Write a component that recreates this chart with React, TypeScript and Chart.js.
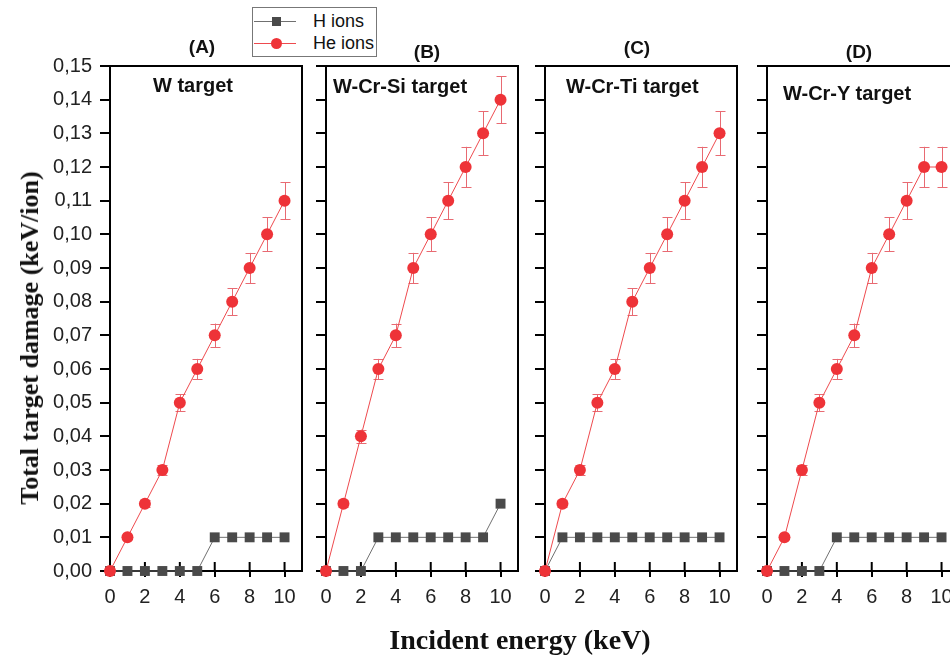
import React, { useEffect, useRef } from 'react';
import { Chart, registerables } from 'chart.js';

Chart.register(...registerables);

// ---------- data ----------
const energies = [0, 1, 2, 3, 4, 5, 6, 7, 8, 9, 10];
const xTicks = [0, 2, 4, 6, 8, 10];
const yTicks = [0, 0.01, 0.02, 0.03, 0.04, 0.05, 0.06, 0.07, 0.08, 0.09, 0.1, 0.11, 0.12, 0.13, 0.14, 0.15];

const panelLabels = ['(A)', '(B)', '(C)', '(D)'];
const targetNames = ['W target', 'W-Cr-Si target', 'W-Cr-Ti target', 'W-Cr-Y target'];
const seriesNames = ['H ions', 'He ions'];

const hIonsA = [0, 0, 0, 0, 0, 0, 0.01, 0.01, 0.01, 0.01, 0.01];
const heIonsA = [0, 0.01, 0.02, 0.03, 0.05, 0.06, 0.07, 0.08, 0.09, 0.1, 0.11];
const heErrA = [0, 0.0005, 0.001, 0.0015, 0.0025, 0.003, 0.0035, 0.004, 0.0045, 0.005, 0.0055];

const hIonsB = [0, 0, 0, 0.01, 0.01, 0.01, 0.01, 0.01, 0.01, 0.01, 0.02];
const heIonsB = [0, 0.02, 0.04, 0.06, 0.07, 0.09, 0.1, 0.11, 0.12, 0.13, 0.14];
const heErrB = [0, 0.001, 0.002, 0.003, 0.0035, 0.0045, 0.005, 0.0055, 0.006, 0.0065, 0.007];

const hIonsC = [0, 0.01, 0.01, 0.01, 0.01, 0.01, 0.01, 0.01, 0.01, 0.01, 0.01];
const heIonsC = [0, 0.02, 0.03, 0.05, 0.06, 0.08, 0.09, 0.1, 0.11, 0.12, 0.13];
const heErrC = [0, 0.001, 0.0015, 0.0025, 0.003, 0.004, 0.0045, 0.005, 0.0055, 0.006, 0.0065];

const hIonsD = [0, 0, 0, 0, 0.01, 0.01, 0.01, 0.01, 0.01, 0.01, 0.01];
const heIonsD = [0, 0.01, 0.03, 0.05, 0.06, 0.07, 0.09, 0.1, 0.11, 0.12, 0.12];
const heErrD = [0, 0.0005, 0.0015, 0.0025, 0.003, 0.0035, 0.0045, 0.005, 0.0055, 0.006, 0.006];

// ---------- layout / style ----------
const PLOT_TOP = 66;
const PLOT_BOTTOM = 571;
const PLOT_W = 192;
const PAD_T = 24;
const PAD_R = 8;
const X_AXIS_H = 60;
const SANS = "'Liberation Sans', Arial, sans-serif";
const SERIF = "'Liberation Serif', 'Times New Roman', serif";
const RED = '#EE3338';
const RED_LINE = '#EE4A4E';
const RED_ERR = '#E86A72';
const GRAY = '#4A4A4A';
const GRAY_LINE = '#707070';

const panels = [
  { h: hIonsA, he: heIonsA, err: heErrA, left: 110, yAxisW: 110, labels: true, labelX: 202, labelY: 46, nameX: 153, nameY: 85 },
  { h: hIonsB, he: heIonsB, err: heErrB, left: 326, yAxisW: 20, labels: false, labelX: 427, labelY: 51, nameX: 333, nameY: 86 },
  { h: hIonsC, he: heIonsC, err: heErrC, left: 545, yAxisW: 20, labels: false, labelX: 637, labelY: 47, nameX: 566, nameY: 86 },
  { h: hIonsD, he: heIonsD, err: heErrD, left: 767, yAxisW: 20, labels: false, labelX: 859, labelY: 51, nameX: 783, nameY: 93 },
];

type PanelProps = { h: number[]; he: number[]; err: number[]; left: number; yAxisW: number; labels: boolean };

function Panel({ h, he, err, left, yAxisW, labels }: PanelProps) {
  const ref = useRef<HTMLCanvasElement | null>(null);
  const width = yAxisW + PLOT_W + PAD_R;
  const height = PAD_T + (PLOT_BOTTOM - PLOT_TOP) + X_AXIS_H;

  useEffect(() => {
    if (!ref.current) return;
    const framePlugin = {
      id: 'frameAndErrors',
      beforeDatasetsDraw(chart: any) {
        const { ctx, chartArea } = chart;
        const xs = chart.scales.x;
        const ys = chart.scales.y;
        ctx.save();
        // frame
        ctx.strokeStyle = '#000';
        ctx.lineWidth = 2;
        ctx.strokeRect(chartArea.left, chartArea.top, chartArea.right - chartArea.left, chartArea.bottom - chartArea.top);
        // inward x ticks
        ctx.beginPath();
        xTicks.forEach((v) => {
          const px = xs.getPixelForValue(v);
          ctx.moveTo(px, chartArea.bottom);
          ctx.lineTo(px, chartArea.bottom - 9);
        });
        ctx.stroke();
        // error bars
        ctx.strokeStyle = RED_ERR;
        ctx.lineWidth = 1;
        ctx.beginPath();
        energies.forEach((e, i) => {
          const px = Math.round(xs.getPixelForValue(e)) + 0.5;
          const y1 = ys.getPixelForValue(he[i] + err[i]);
          const y2 = ys.getPixelForValue(he[i] - err[i]);
          ctx.moveTo(px, y1);
          ctx.lineTo(px, y2);
          ctx.moveTo(px - 5, Math.round(y1) + 0.5);
          ctx.lineTo(px + 5, Math.round(y1) + 0.5);
          ctx.moveTo(px - 5, Math.round(y2) + 0.5);
          ctx.lineTo(px + 5, Math.round(y2) + 0.5);
        });
        ctx.stroke();
        ctx.restore();
      },
    };

    const chart = new Chart(ref.current, {
      type: 'line',
      data: {
        datasets: [
          {
            label: seriesNames[1],
            data: energies.map((e, i) => ({ x: e, y: he[i] })),
            borderColor: RED_LINE,
            borderWidth: 1,
            backgroundColor: RED,
            pointBackgroundColor: RED,
            pointBorderWidth: 0,
            pointRadius: 6,
            pointStyle: 'circle',
            clip: false,
            order: 0,
          },
          {
            label: seriesNames[0],
            data: energies.map((e, i) => ({ x: e, y: h[i] })),
            borderColor: GRAY_LINE,
            borderWidth: 1,
            backgroundColor: GRAY,
            pointBackgroundColor: GRAY,
            pointBorderWidth: 0,
            pointRadius: 7,
            pointStyle: 'rect',
            clip: false,
            order: 1,
          },
        ],
      },
      options: {
        animation: false,
        responsive: false,
        maintainAspectRatio: false,
        devicePixelRatio: 1,
        layout: { padding: { top: PAD_T, right: PAD_R, left: 0, bottom: 0 } },
        plugins: { legend: { display: false }, tooltip: { enabled: false }, title: { display: false } },
        events: [],
        scales: {
          x: {
            type: 'linear',
            min: 0,
            max: 11,
            afterBuildTicks: (axis: any) => {
              axis.ticks = xTicks.map((v) => ({ value: v }));
            },
            afterFit: (axis: any) => {
              axis.height = X_AXIS_H;
            },
            border: { display: false },
            grid: { drawOnChartArea: false, drawTicks: true, tickLength: 6, color: '#000', lineWidth: 2 },
            ticks: {
              color: '#222',
              font: { family: SANS, size: 20 },
              padding: 8,
              maxRotation: 0,
              callback: (v: any) => String(v),
            },
          },
          y: {
            type: 'linear',
            min: 0,
            max: 0.15,
            afterBuildTicks: (axis: any) => {
              axis.ticks = yTicks.map((v) => ({ value: v }));
            },
            afterFit: (axis: any) => {
              axis.width = yAxisW;
            },
            border: { display: false },
            grid: { drawOnChartArea: false, drawTicks: true, tickLength: 10, color: '#000', lineWidth: 2 },
            ticks: {
              display: labels,
              color: '#222',
              font: { family: SANS, size: 20 },
              padding: 8,
              callback: (v: any) => Number(v).toFixed(2).replace('.', ','),
            },
          },
        },
      },
      plugins: [framePlugin],
    } as any);
    return () => chart.destroy();
  }, [h, he, err, yAxisW, labels]);

  return (
    <canvas
      ref={ref}
      width={width}
      height={height}
      style={{ position: 'absolute', left: left - yAxisW, top: PLOT_TOP - PAD_T, width, height }}
    />
  );
}

export default function App() {
  return (
    <div
      style={{
        position: 'absolute',
        left: 0,
        top: 0,
        width: 950,
        height: 659,
        overflow: 'hidden',
        background: '#fff',
        fontFamily: SANS,
      }}
    >
      {panels.map((p, i) => (
        <Panel key={i} h={p.h} he={p.he} err={p.err} left={p.left} yAxisW={p.yAxisW} labels={p.labels} />
      ))}
      {panels.map((p, i) => (
        <div
          key={'l' + i}
          style={{
            position: 'absolute',
            left: p.labelX,
            top: p.labelY,
            transform: 'translate(-50%, -50%)',
            font: `bold 19px ${SANS}`,
            lineHeight: '1',
            color: '#111',
            whiteSpace: 'nowrap',
          }}
        >
          {panelLabels[i]}
        </div>
      ))}
      {panels.map((p, i) => (
        <div
          key={'n' + i}
          style={{
            position: 'absolute',
            left: p.nameX,
            top: p.nameY,
            transform: 'translateY(-50%)',
            font: `bold 20px ${SANS}`,
            lineHeight: '1',
            color: '#111',
            whiteSpace: 'nowrap',
          }}
        >
          {targetNames[i]}
        </div>
      ))}
      {/* y-axis title */}
      <div
        style={{
          position: 'absolute',
          left: 30,
          top: 338,
          transform: 'translate(-50%, -50%) rotate(-90deg)',
          font: `bold 26px ${SERIF}`,
          lineHeight: '1',
          color: '#111',
          whiteSpace: 'nowrap',
        }}
      >
        Total target damage (keV/ion)
      </div>
      {/* x-axis title */}
      <div
        style={{
          position: 'absolute',
          left: 520,
          top: 640,
          transform: 'translate(-50%, -50%)',
          font: `bold 28px ${SERIF}`,
          lineHeight: '1',
          color: '#111',
          whiteSpace: 'nowrap',
        }}
      >
        Incident energy (keV)
      </div>
      {/* legend */}
      <div
        style={{
          position: 'absolute',
          left: 252,
          top: 7,
          width: 125,
          height: 50,
          boxSizing: 'border-box',
          border: '1px solid #777',
          background: '#fff',
        }}
      >
        {[0, 1].map((r) => (
          <div key={r} style={{ position: 'absolute', left: 0, top: r === 0 ? 13 : 35, width: 125, height: 0 }}>
            <div style={{ position: 'absolute', left: 1, top: 0, width: 42, height: 1, background: r === 0 ? GRAY_LINE : RED_LINE }} />
            {r === 0 ? (
              <div style={{ position: 'absolute', left: 19, top: -4, width: 9, height: 9, background: GRAY }} />
            ) : (
              <div style={{ position: 'absolute', left: 18, top: -5, width: 11, height: 11, borderRadius: '50%', background: RED }} />
            )}
            <div
              style={{
                position: 'absolute',
                left: 60,
                top: 0,
                transform: 'translateY(-50%)',
                font: `18px ${SANS}`,
                lineHeight: '1',
                color: '#111',
                whiteSpace: 'nowrap',
              }}
            >
              {seriesNames[r]}
            </div>
          </div>
        ))}
      </div>
    </div>
  );
}
